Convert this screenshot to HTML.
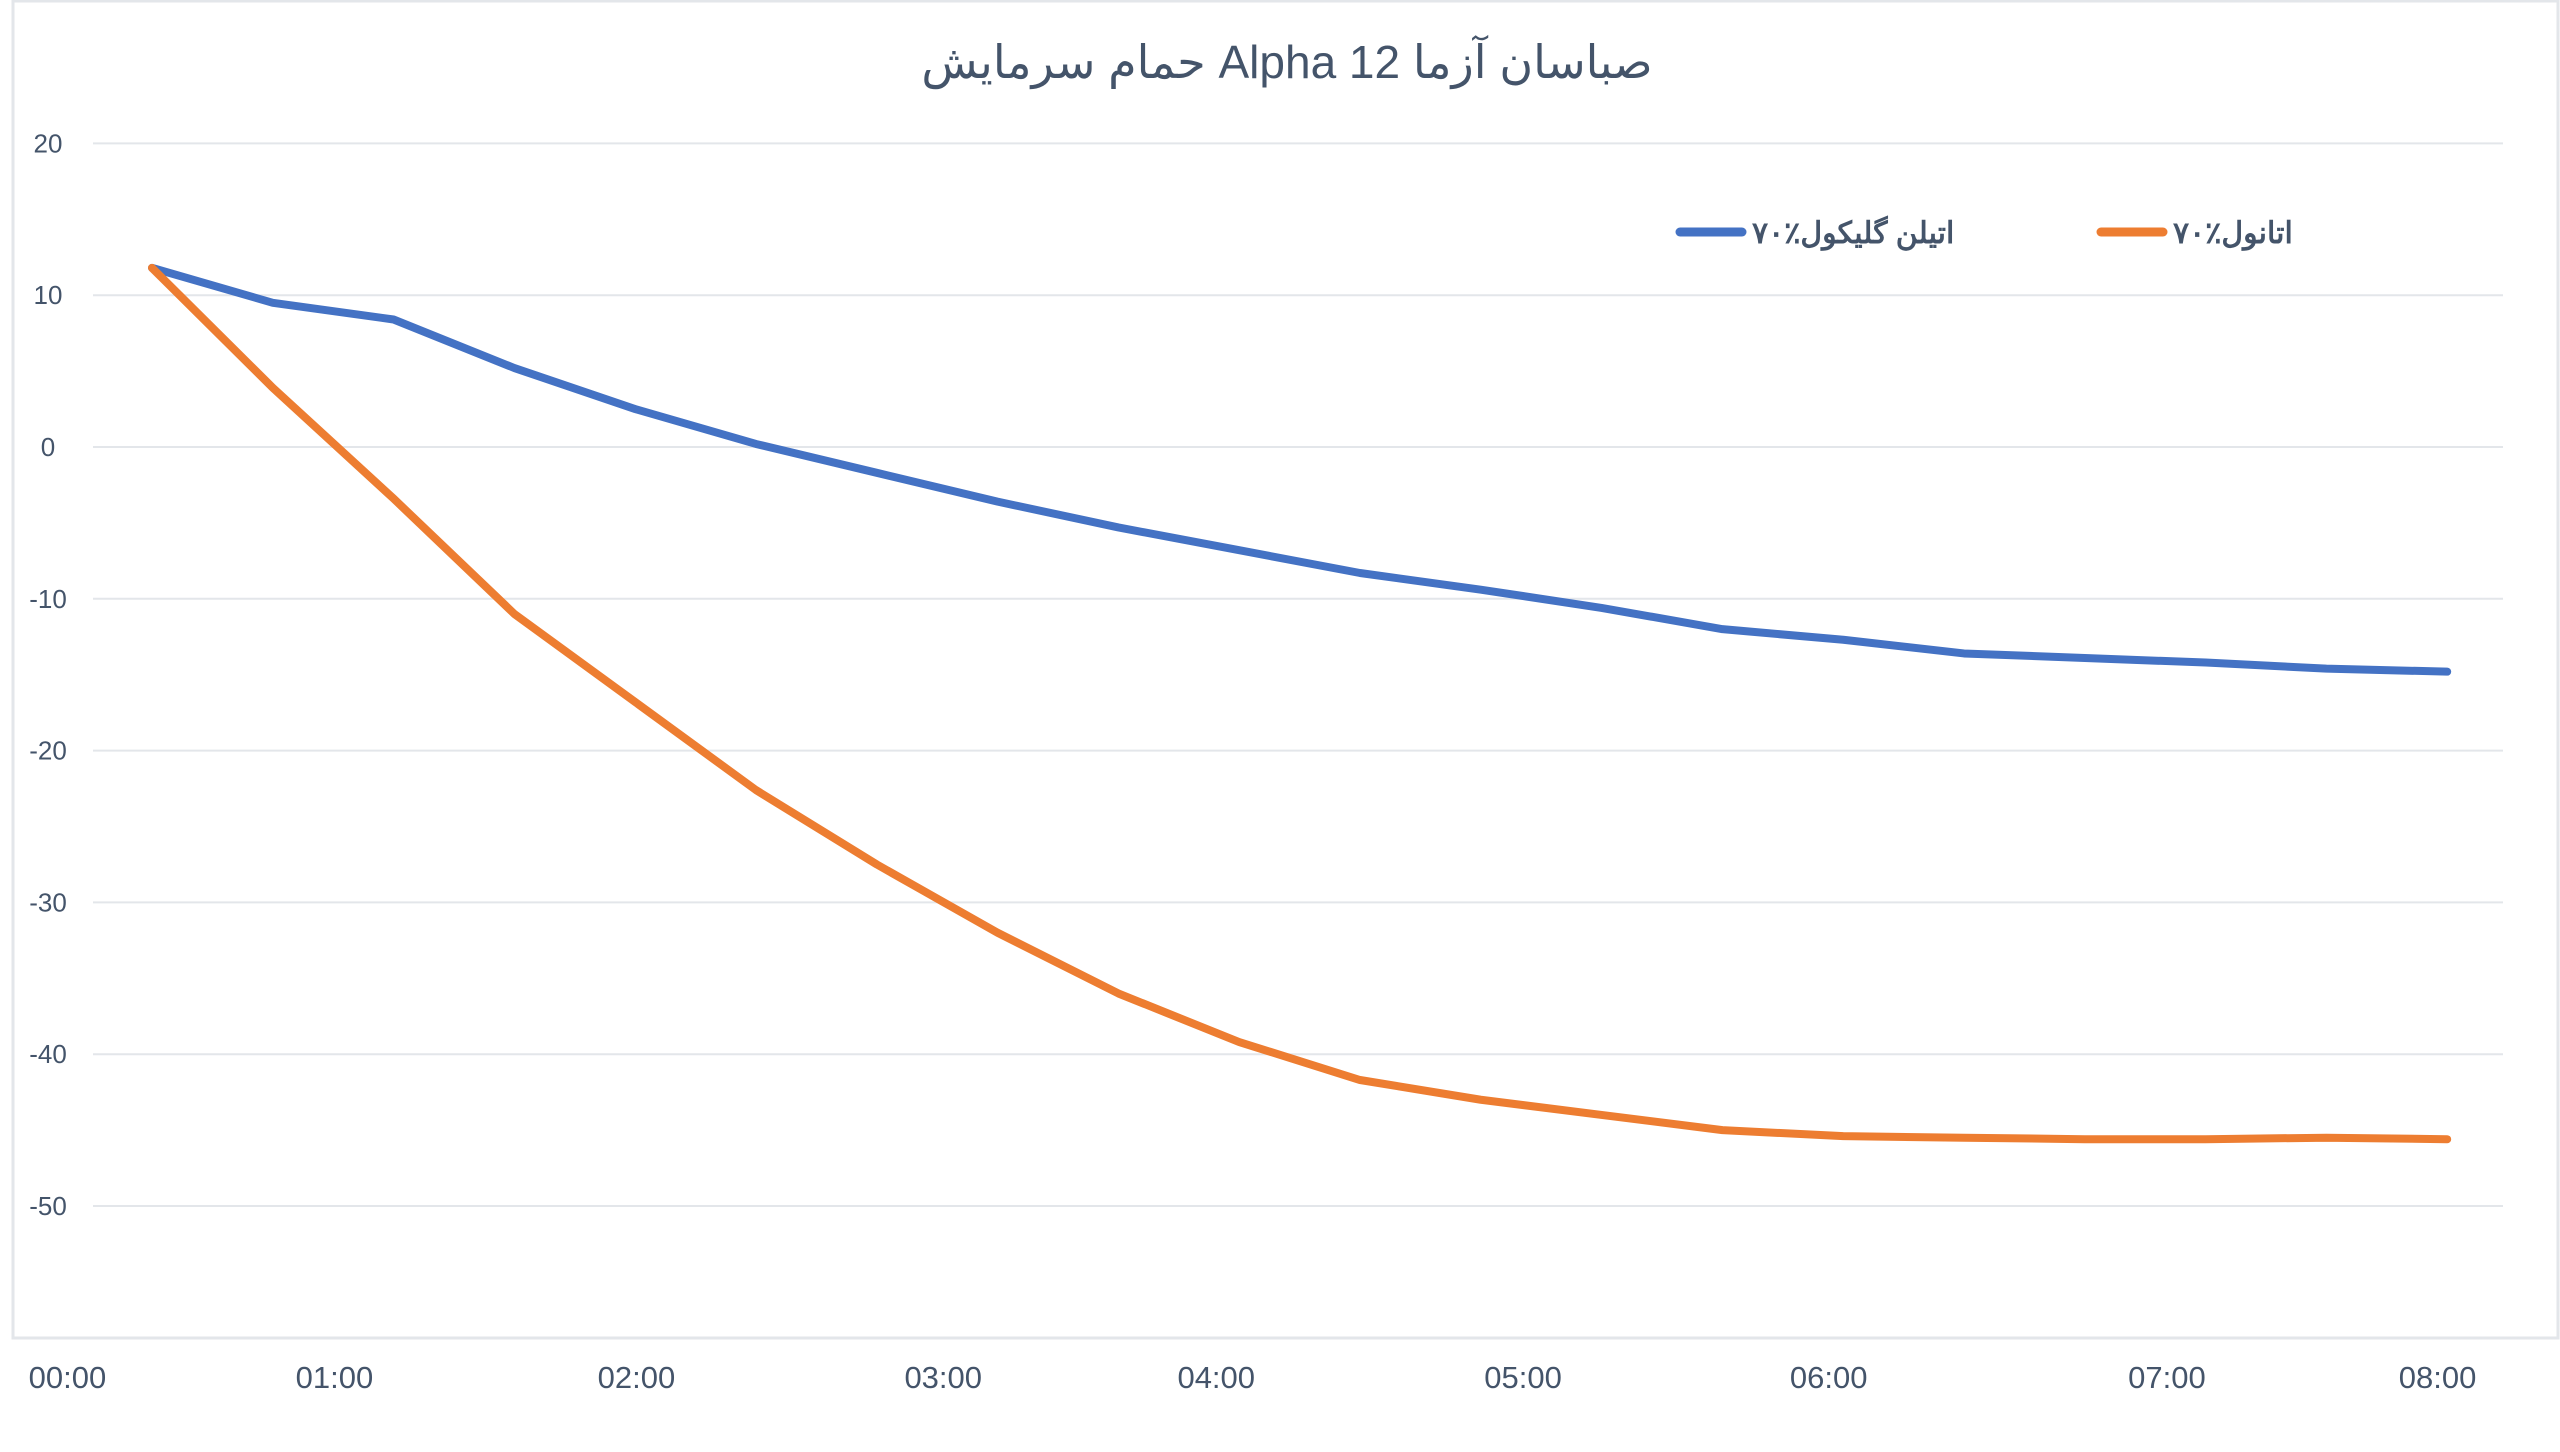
<!DOCTYPE html>
<html><head><meta charset="utf-8"><style>
html,body{margin:0;padding:0;background:#fff;}
svg{display:block;font-family:"Liberation Sans","Noto Sans CJK SC",sans-serif;}
.ov{position:absolute;font-family:"Liberation Sans","Noto Sans CJK SC",sans-serif;color:#44546a;white-space:nowrap;display:flex;align-items:center;}
.ov span{display:inline-block;}
</style></head><body>
<div style="position:relative;width:2560px;height:1452px;">
<svg id="chart" width="2560" height="1452" viewBox="0 0 2560 1452" xmlns="http://www.w3.org/2000/svg">
<rect x="13" y="1" width="2545" height="1337" fill="#fff" stroke="#e3e6ea" stroke-width="3"/>
<g id="grid"></g>
<g id="ylabels"></g>
<g id="xlabels"></g>
<g id="series"></g>
<g>
<line x1="1680" y1="232" x2="1742" y2="232" stroke="#4472c4" stroke-width="9" stroke-linecap="round"/>
<line x1="2101" y1="232" x2="2163" y2="232" stroke="#ed7d31" stroke-width="9" stroke-linecap="round"/>
</g>
</svg>
<div class="ov" style="left:0;width:2574px;top:30px;height:64px;justify-content:center;font-size:46px;">
<span dir="rtl">حمام سرمایش</span><span>&nbsp;Alpha 12&nbsp;</span><span dir="rtl">صباسان آزما</span>
</div>
<div class="ov" style="left:1752px;top:210px;height:46px;font-size:30px;font-weight:bold;">
<span>۷۰٪</span><span dir="rtl">&nbsp;اتیلن گلیکول</span>
</div>
<div class="ov" style="left:2173px;top:210px;height:46px;font-size:30px;font-weight:bold;">
<span>۷۰٪</span><span dir="rtl">&nbsp;اتانول</span>
</div>
</div>
<script>
const yTicks = [20, 10, 0, -10, -20, -30, -40, -50];
const xTickLabels = ["00:00","01:00","02:00","03:00","04:00","05:00","06:00","07:00","08:00"];
const xTickCats = [-0.70, 1.51, 4.01, 6.55, 8.81, 11.35, 13.88, 16.68, 18.92];
const glycolValues = [11.8, 9.5, 8.4, 5.2, 2.5, 0.2, -1.7, -3.6, -5.3, -6.8, -8.3, -9.4, -10.6, -12.0, -12.7, -13.6, -13.9, -14.2, -14.6, -14.8];
const ethanolValues = [11.8, 3.9, -3.4, -11.0, -16.8, -22.6, -27.5, -32.0, -36.0, -39.2, -41.7, -43.0, -44.0, -45.0, -45.4, -45.5, -45.6, -45.6, -45.5, -45.6];

const NS = "http://www.w3.org/2000/svg";
const xScale = i => 152 + 120.8 * i;
const yScale = v => 447 - v * 15.18;

const grid = document.getElementById('grid');
const yl = document.getElementById('ylabels');
yTicks.forEach(t => {
  const l = document.createElementNS(NS, 'line');
  
  
  l.setAttribute('x1', 93); l.setAttribute('x2', 2503);
  l.setAttribute('y1', yScale(t)); l.setAttribute('y2', yScale(t));
  l.setAttribute('stroke', '#e3e6ea'); l.setAttribute('stroke-width', 2);
  grid.appendChild(l);
  const tx = document.createElementNS(NS, 'text');
  
  
  tx.setAttribute('x', 48); tx.setAttribute('y', yScale(t) + 9);
  tx.setAttribute('text-anchor', 'middle'); tx.setAttribute('font-size', 26);
  tx.setAttribute('fill', '#44546a');
  tx.textContent = t;
  yl.appendChild(tx);
});
const xl = document.getElementById('xlabels');
xTickLabels.forEach((s, k) => {
  const tx = document.createElementNS(NS, 'text');
  
  
  tx.setAttribute('x', xScale(xTickCats[k])); tx.setAttribute('y', 1388);
  tx.setAttribute('text-anchor', 'middle'); tx.setAttribute('font-size', 31);
  tx.setAttribute('fill', '#44546a');
  tx.textContent = s;
  xl.appendChild(tx);
});
const ser = document.getElementById('series');
function drawLine(vals, color, name) {
  const p = document.createElementNS(NS, 'polyline');
  
  
  p.setAttribute('points', vals.map((v, i) => xScale(i) + ',' + yScale(v)).join(' '));
  p.setAttribute('fill', 'none'); p.setAttribute('stroke', color);
  p.setAttribute('stroke-width', 8); p.setAttribute('stroke-linejoin', 'round'); p.setAttribute('stroke-linecap', 'round');
  ser.appendChild(p);
}
drawLine(glycolValues, '#4472c4', 'ethylene-glycol-line');
drawLine(ethanolValues, '#ed7d31', 'ethanol-line');
</script>
</body></html>
